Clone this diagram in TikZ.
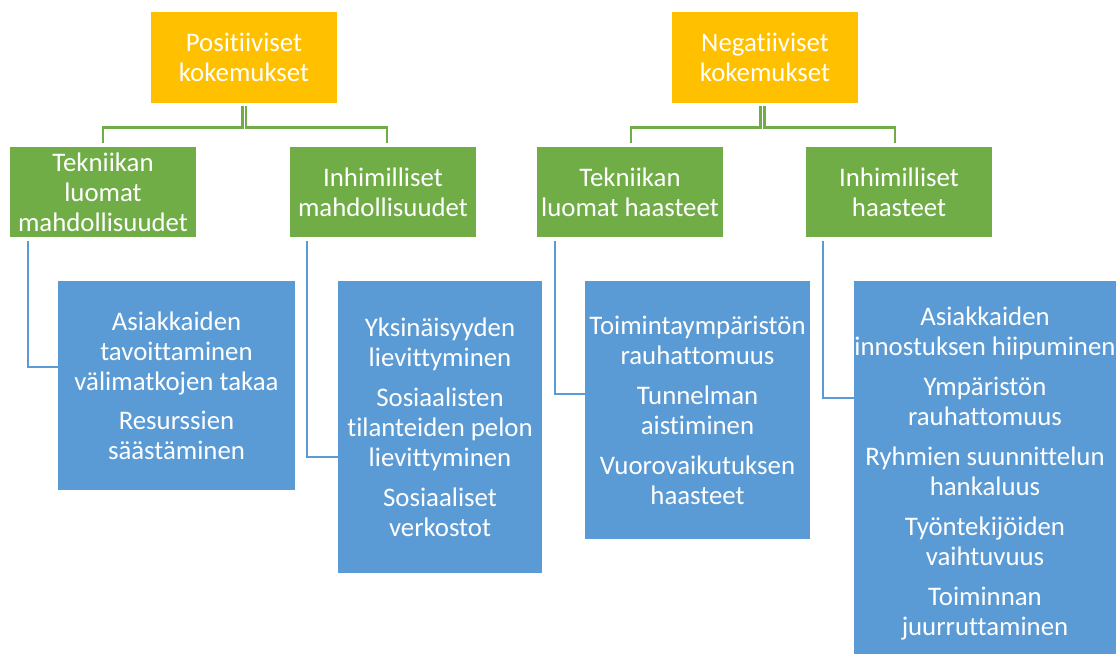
\documentclass[tikz,border=0pt]{standalone}
\usepackage{fontspec}
\setmainfont[Ligatures=NoCommon]{Carlito}
\definecolor{topfill}{HTML}{FFC000}
\definecolor{midfill}{HTML}{70AD47}
\definecolor{lowfill}{HTML}{5B9BD5}

\begin{document}
\begin{tikzpicture}[x=1pt,y=-1pt,
  card/.style={draw=none, inner sep=0pt, align=center, text=white,
    font=\fontsize{26.8}{30}\selectfont},
  topbox/.style={card, fill=topfill, minimum width=186pt, minimum height=91pt},
  midbox/.style={card, fill=midfill, minimum width=186pt, minimum height=90pt},
  lowbox/.style={card, fill=lowfill},
  gline/.style={draw=midfill, line width=2.6pt},
  bline/.style={draw=lowfill, line width=2.4pt}
]
\useasboundingbox (0,0) rectangle (1118,654);

% top level
\node[topbox] (o1) at (244,57.5) {Positiiviset\\kokemukset};
\node[topbox] (o2) at (765,57.5) {Negatiiviset\\kokemukset};

% second level
\node[midbox] (g1) at (103,192) {Tekniikan\\luomat\\mahdollisuudet};
\node[midbox] (g2) at (383,192) {Inhimilliset\\mahdollisuudet};
\node[midbox] (g3) at (630,192) {Tekniikan\\luomat haasteet};
\node[midbox] (g4) at (899,192) {Inhimilliset\\haasteet};

% detail lists
\node[lowbox, minimum width=237pt, minimum height=209pt] (b1) at (176.5,385.5)
  {Asiakkaiden\\tavoittaminen\\välimatkojen takaa\\[9pt]Resurssien\\säästäminen};
\node[lowbox, minimum width=204pt, minimum height=292pt] (b2) at (440,427)
  {Yksinäisyyden\\lievittyminen\\[10pt]Sosiaalisten\\tilanteiden pelon\\lievittyminen\\[10pt]Sosiaaliset\\verkostot};
\node[lowbox, minimum width=225pt, minimum height=258pt] (b3) at (697.5,410)
  {Toimintaympäristön\\rauhattomuus\\[10pt]Tunnelman\\aistiminen\\[10pt]Vuorovaikutuksen\\haasteet};
\node[lowbox, minimum width=262pt, minimum height=373pt] (b4) at (985,467.5)
  {\rule{0pt}{30pt}Asiakkaiden\\innostuksen hiipuminen\\[10pt]Ympäristön\\rauhattomuus\\[10pt]Ryhmien suunnittelun\\hankaluus\\[10pt]Työntekijöiden\\vaihtuvuus\\[10pt]Toiminnan\\juurruttaminen};

% connectors from the top level
\draw[gline] ([xshift=-1.8pt,yshift=-3pt]o1.south) -- ++(0,21) -| ([yshift=4pt]g1.north);
\draw[gline] ([xshift=1.8pt,yshift=-3pt]o1.south) -- ++(0,21) -| ([xshift=4pt,yshift=4pt]g2.north);
\draw[gline] ([xshift=-4.7pt,yshift=-3pt]o2.south) -- ++(0,21) -| ([xshift=1pt,yshift=4pt]g3.north);
\draw[gline] ([xshift=-0.3pt,yshift=-3pt]o2.south) -- ++(0,21) -| ([xshift=-4pt,yshift=4pt]g4.north);

% connectors to the detail lists
\draw[bline] ([xshift=18pt,yshift=-4pt]g1.south west) |- (b1.west |- 0,367);
\draw[bline] ([xshift=17pt,yshift=-4pt]g2.south west) |- (b2.west |- 0,457);
\draw[bline] ([xshift=18pt,yshift=-4pt]g3.south west) |- (b3.west |- 0,394);
\draw[bline] ([xshift=17pt,yshift=-4pt]g4.south west) |- (b4.west |- 0,398);
\end{tikzpicture}
\end{document}
